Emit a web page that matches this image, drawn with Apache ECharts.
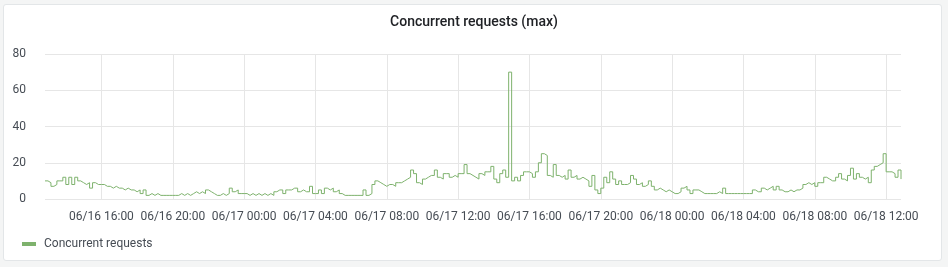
<!DOCTYPE html>
<html><head><meta charset="utf-8">
<script src="https://cdn.jsdelivr.net/npm/echarts@6/dist/echarts.min.js"></script>
<style>
html,body{margin:0;padding:0;background:#f4f5f5;width:948px;height:267px;overflow:hidden;}
#panel{position:absolute;left:3px;top:4px;width:937px;height:255px;background:#fff;border:1px solid #e3e6e8;border-radius:3px;}
#chart{position:absolute;left:0;top:0;width:948px;height:267px;}
</style></head><body>
<div id="panel"></div><div id="chart"></div>
<script>
// time in hours since 06/16 00:00; samples every 10 minutes from 06/16 12:50
const startHour = 12 + 50/60;
const stepHours = 10/60;
const seriesName = 'Concurrent requests';
const values = [
  10,9,7,8,10,10,12,8,12,8, 12,10,9,8,9,6,9,8,8,8, 7,7,6,7,6,6,5,6,5,5, 4,5,3,5,2,3,2,3,2,2, 2,2,
  2,2,2,3,2,3,2,3,4,3, 4,3,5,4,3,2,2,3,2,3, 6,4,5,3,3,3,2,3,2,3, 2,3,2,3,2,4,5,5,3,5, 5,
  6,6,4,5,4,4,7,3,3,5, 3,6,5,6,4,5,3,2,2,2, 2,2,2,2,5,2,3,8,10,9, 8,7,8,8,7,9,9,10,11,12, 16,
  14,9,8,11,12,13,13,16,12,11, 14,14,12,13,12,14,14,19,14,13, 12,11,14,13,15,15,18,11,9,14, 16,12,70,10,12,10,13,15,15,14, 12,
  15,20,25,24,13,12,19,13,12,13, 11,16,12,13,11,12,11,10,7,13, 5,3,6,12,9,15,11,8,10,8, 8,9,13,11,8,9,7,8,10,7, 5,
  6,5,4,5,4,3,3,4,6,7, 5,3,5,5,4,3,3,3,3,3, 4,3,6,3,3,3,3,3,3,3, 3,3,5,4,4,6,5,6,7,5, 7,5,
  4,4,5,4,5,5,6,8,9,8, 9,7,9,9,12,11,10,10,12,14, 11,10,13,17,11,14,12,11,12,9, 16,18,19,20,25,15,15,14,12,16, 11
];
const tickHours = [16,20,24,28,32,36,40,44,48,52,56,60];
const tickLabels = ['06/16 16:00','06/16 20:00','06/17 00:00','06/17 04:00','06/17 08:00','06/17 12:00',
  '06/17 16:00','06/17 20:00','06/18 00:00','06/18 04:00','06/18 08:00','06/18 12:00'];
const yMin = 0, yMax = 80, yStep = 20;

const data = values.map((v, i) => [startHour + i * stepHours, v]);
const font = 'Roboto, "Noto Sans", sans-serif';
const gridColor = '#e6e6e6';

const chart = echarts.init(document.getElementById('chart'), null, {renderer: 'canvas'});
chart.setOption({
  animation: false,
  backgroundColor: 'transparent',
  title: {
    text: 'Concurrent requests (max)', left: 'center', top: 15, padding: 0,
    textStyle: {fontSize: 14, fontWeight: 500, color: '#202226', fontFamily: font}
  },
  legend: {
    data: [seriesName], left: 22, top: 238, padding: 0, icon: 'rect', itemWidth: 14, itemHeight: 4,
    textStyle: {fontSize: 12, color: '#464c54', fontFamily: font, padding: [0, 0, 0, 3]}
  },
  grid: {left: 45, right: 47, top: 54, bottom: 68, containLabel: false},
  xAxis: {
    type: 'value', min: startHour, max: startHour + 48,
    axisLine: {show: false},
    axisTick: {show: false, customValues: tickHours},
    axisLabel: {
      customValues: tickHours, margin: 12, fontSize: 12, color: '#464c54', fontFamily: font,
      formatter: v => tickLabels[tickHours.indexOf(Math.round(v))] || ''
    },
    splitLine: {show: true, lineStyle: {color: gridColor, width: 1}}
  },
  yAxis: {
    type: 'value', min: yMin, max: yMax, interval: yStep,
    axisLine: {show: false}, axisTick: {show: false},
    axisLabel: {margin: 19, fontSize: 12, color: '#464c54', fontFamily: font},
    splitLine: {show: true, lineStyle: {color: gridColor, width: 1}}
  },
  series: [{
    name: seriesName, type: 'line', step: 'end', data: data,
    showSymbol: false, symbol: 'none',
    itemStyle: {color: '#7EB26D'},
    lineStyle: {color: '#7EB26D', width: 1}
  }]
});
</script>
</body></html>
